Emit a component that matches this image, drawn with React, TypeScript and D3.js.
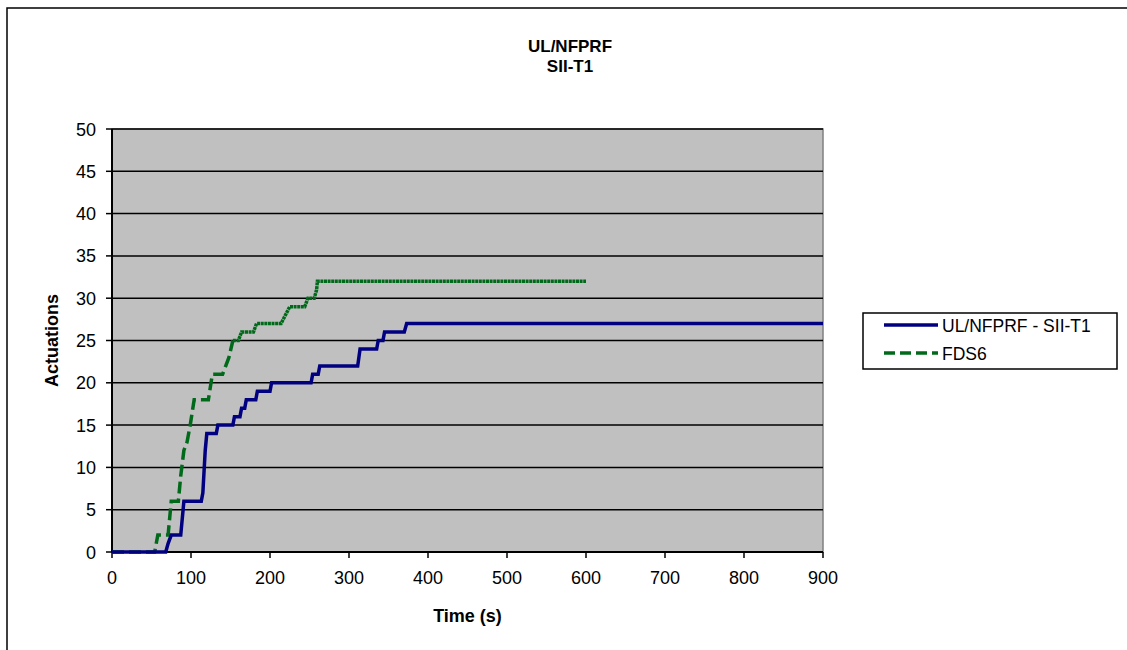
import React from "react";
import * as d3 from "d3";

// UL/NFPRF SII-T1 sprinkler actuations vs time
const ulTime = [0, 68, 71, 75, 87, 91, 113, 115, 118, 120, 132, 134, 153, 155, 162, 164, 168, 170, 182, 184, 200, 202, 252, 254, 261, 263, 311, 314, 335, 337, 343, 345, 370, 373, 900];
const ulActuations = [0, 0, 1, 2, 2, 6, 6, 7, 12, 14, 14, 15, 15, 16, 16, 17, 17, 18, 18, 19, 19, 20, 20, 21, 21, 22, 22, 24, 24, 25, 25, 26, 26, 27, 27];

const fdsTime = [0, 54, 58, 71, 75, 84, 87, 91, 95, 99, 104, 122, 127, 140, 144, 148, 153, 160, 164, 179, 183, 214, 225, 244, 248, 256, 259, 260, 600];
const fdsActuations = [0, 0, 2, 2, 6, 6, 9, 12, 13, 15, 18, 18, 21, 21, 22, 23, 25, 25, 26, 26, 27, 27, 29, 29, 30, 30, 31, 32, 32];
// FDS line is drawn dashed up to this time, then (dense points) looks solid
const fdsDashEnd = 153;

const xTicks = [0, 100, 200, 300, 400, 500, 600, 700, 800, 900];
const yTicks = [0, 5, 10, 15, 20, 25, 30, 35, 40, 45, 50];

const seriesNames = ["UL/NFPRF - SII-T1", "FDS6"];
const blue = "#000080";
const green = "#006A1A";

const font = "Arial, 'Liberation Sans', sans-serif";

const App = () => {
  const W = 1127;
  const H = 650;
  const plot = { left: 112, right: 823, top: 129, bottom: 552 };

  const x = d3.scaleLinear().domain([0, 900]).range([plot.left, plot.right]);
  const y = d3.scaleLinear().domain([0, 50]).range([plot.bottom, plot.top]);

  const line = d3
    .line<[number, number]>()
    .x((d) => x(d[0]))
    .y((d) => y(d[1]));

  const ulPts: [number, number][] = ulTime.map((t, i) => [t, ulActuations[i]]);
  const fdsPts: [number, number][] = fdsTime.map((t, i) => [t, fdsActuations[i]]);
  const splitIdx = fdsTime.indexOf(fdsDashEnd);
  const fdsDashed = fdsPts.slice(0, splitIdx + 1);
  const fdsSolid = fdsPts.slice(splitIdx);

  const legend = { x: 863, y: 313, w: 254, h: 56 };

  return (
    <div style={{ position: "fixed", left: 0, top: 0 }}>
      <svg width={W} height={H} style={{ display: "block", background: "#fff" }}>
        {/* chart frame */}
        <rect x={7} y={8} width={1130} height={660} fill="#fff" stroke="#000" strokeWidth={1.5} />

        {/* title */}
        <text x={570} y={52} textAnchor="middle" fontFamily={font} fontWeight="bold" fontSize={17}>
          UL/NFPRF
        </text>
        <text x={570} y={72} textAnchor="middle" fontFamily={font} fontWeight="bold" fontSize={17}>
          SII-T1
        </text>

        {/* plot area */}
        <rect
          x={plot.left}
          y={plot.top}
          width={plot.right - plot.left}
          height={plot.bottom - plot.top}
          fill="#C0C0C0"
          stroke="#808080"
          strokeWidth={1.5}
        />

        {/* gridlines */}
        {yTicks.slice(1).map((v) => (
          <line key={"g" + v} x1={plot.left} x2={plot.right} y1={y(v)} y2={y(v)} stroke="#000" strokeWidth={1.5} />
        ))}

        {/* axes */}
        <line x1={plot.left} x2={plot.left} y1={plot.top} y2={plot.bottom} stroke="#000" strokeWidth={2} />
        <line x1={plot.left} x2={plot.right} y1={plot.bottom} y2={plot.bottom} stroke="#000" strokeWidth={2} />

        {yTicks.map((v) => (
          <g key={"y" + v}>
            <line x1={plot.left - 6} x2={plot.left} y1={y(v)} y2={y(v)} stroke="#000" strokeWidth={1.5} />
            <text x={96} y={y(v) + 6.5} textAnchor="end" fontFamily={font} fontSize={18}>
              {v}
            </text>
          </g>
        ))}
        {xTicks.map((v) => (
          <g key={"x" + v}>
            <line x1={x(v)} x2={x(v)} y1={plot.bottom} y2={plot.bottom + 6} stroke="#000" strokeWidth={1.5} />
            <text x={x(v)} y={584} textAnchor="middle" fontFamily={font} fontSize={18}>
              {v}
            </text>
          </g>
        ))}

        {/* axis titles */}
        <text x={(plot.left + plot.right) / 2} y={622} textAnchor="middle" fontFamily={font} fontWeight="bold" fontSize={18}>
          Time (s)
        </text>
        <text
          transform={`translate(58, ${(plot.top + plot.bottom) / 2}) rotate(-90)`}
          textAnchor="middle"
          fontFamily={font}
          fontWeight="bold"
          fontSize={18}
        >
          Actuations
        </text>

        {/* series */}
        <path d={line(fdsDashed) || ""} fill="none" stroke={green} strokeWidth={3.5} strokeDasharray="12,5" />
        <path d={line(fdsSolid) || ""} fill="none" stroke={green} strokeWidth={3.5} strokeDasharray="3,0.6" />
        <path d={line(ulPts) || ""} fill="none" stroke={blue} strokeWidth={3.5} />

        {/* legend */}
        <rect x={legend.x} y={legend.y} width={legend.w} height={legend.h} fill="#fff" stroke="#000" strokeWidth={1.5} />
        <line x1={884} x2={938} y1={325} y2={325} stroke={blue} strokeWidth={3.5} />
        <text x={942} y={331.5} fontFamily={font} fontSize={17.5}>
          {seriesNames[0]}
        </text>
        <line x1={884} x2={938} y1={353} y2={353} stroke={green} strokeWidth={3.5} strokeDasharray="11,5" />
        <text x={942} y={359.5} fontFamily={font} fontSize={17.5}>
          {seriesNames[1]}
        </text>
      </svg>
    </div>
  );
};

export default App;
